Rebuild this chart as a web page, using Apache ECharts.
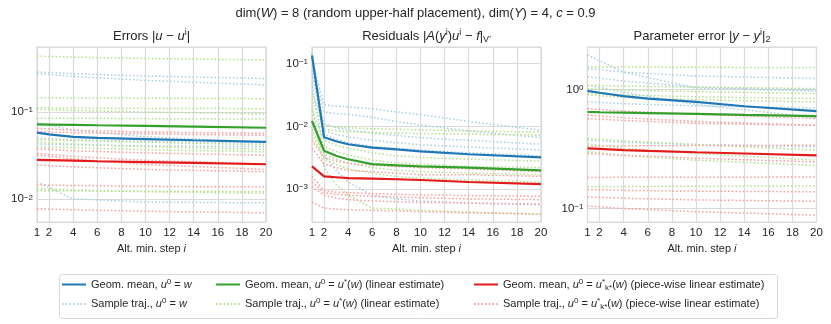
<!DOCTYPE html>
<html>
<head>
<meta charset="utf-8">
<script src="https://cdn.jsdelivr.net/npm/echarts@6/dist/echarts.min.js"></script>
<style>
html, body { margin: 0; padding: 0; background: #fff; }
#chart { width: 831px; height: 324px; }
</style>
</head>
<body>
<div id="chart"></div>
<script>
'use strict'
/*----data----*/
var steps = ['1', '2', '3', '4', '5', '6', '7', '8', '9', '10', '11', '12', '13', '14', '15', '16', '17', '18', '19', '20'];
var meanSteps = [1, 2, 4, 6, 10, 14, 20];
var trajSteps = [1, 4, 10, 20];
var resSteps = [1, 2, 3, 4, 6, 8, 10, 14, 20];

// Errors |u - u^i|
var errMeanW = [0.058, 0.0555, 0.052, 0.0505, 0.049, 0.0475, 0.0455];
var errMeanLin = [0.072, 0.0718, 0.0712, 0.0705, 0.0695, 0.068, 0.066];
var errMeanPw = [0.0283, 0.0281, 0.0277, 0.0273, 0.0267, 0.0261, 0.0252];
var errTrajW = [
	[0.288, 0.275, 0.258, 0.242],
	[0.275, 0.255, 0.23, 0.204],
	[0.076, 0.062, 0.052, 0.045],
	[0.050, 0.048, 0.046, 0.044],
	[0.043, 0.042, 0.041, 0.040],
	[0.0159, 0.0101, 0.0093, 0.0091]
];
var errTrajLin = [
	[0.438, 0.425, 0.41, 0.395],
	[0.146, 0.145, 0.144, 0.142],
	[0.112, 0.111, 0.11, 0.109],
	[0.107, 0.104, 0.1, 0.095],
	[0.085, 0.085, 0.084, 0.083],
	[0.048, 0.047, 0.045, 0.042],
	[0.045, 0.043, 0.040, 0.0375],
	[0.040, 0.039, 0.037, 0.035],
	[0.0133, 0.0128, 0.0122, 0.0118],
	[0.0125, 0.0125, 0.0124, 0.0123]
];
var errTrajPw = [
	[0.065, 0.062, 0.059, 0.057],
	[0.060, 0.058, 0.056, 0.054],
	[0.038, 0.036, 0.034, 0.032],
	[0.0335, 0.031, 0.028, 0.0255],
	[0.032, 0.029, 0.025, 0.022],
	[0.0247, 0.0235, 0.022, 0.0207],
	[0.0146, 0.0144, 0.0141, 0.0138],
	[0.0078, 0.0076, 0.0073, 0.0070]
];

// Residuals |A(y^i)u^i - f|_V'
var resMeanW = [0.135, 0.0067, 0.0058, 0.0052, 0.0046, 0.0043, 0.0040, 0.0036, 0.0032];
var resMeanLin = [0.0122, 0.0041, 0.0034, 0.003, 0.0025, 0.0024, 0.0023, 0.0022, 0.002];
var resMeanPw = [0.0023, 0.0016, 0.00155, 0.0015, 0.00147, 0.00144, 0.0014, 0.0013, 0.0012];
var resTrajW = [
	[0.12, 0.022, 0.021, 0.0205, 0.019, 0.017, 0.0155, 0.012, 0.0087],
	[0.10, 0.017, 0.016, 0.0155, 0.014, 0.012, 0.0105, 0.0085, 0.0066],
	[0.08, 0.011, 0.0095, 0.0088, 0.0078, 0.0072, 0.0066, 0.006, 0.0052],
	[0.07, 0.0085, 0.0075, 0.0068, 0.006, 0.0055, 0.0051, 0.0047, 0.0042],
	[0.15, 0.0075, 0.0062, 0.0055, 0.0048, 0.0045, 0.0042, 0.0038, 0.0034],
	[0.05, 0.0035, 0.002, 0.0013, 0.0008, 0.0007, 0.00065, 0.0006, 0.00056]
];
var resTrajLin = [
	[0.035, 0.0105, 0.0098, 0.0095, 0.0092, 0.009, 0.0088, 0.0085, 0.0081],
	[0.028, 0.009, 0.0085, 0.0082, 0.008, 0.0078, 0.0077, 0.0075, 0.0073],
	[0.018, 0.006, 0.005, 0.0045, 0.0038, 0.0034, 0.0032, 0.003, 0.0028],
	[0.012, 0.0048, 0.004, 0.0035, 0.0029, 0.0026, 0.0025, 0.0023, 0.0022],
	[0.009, 0.0036, 0.003, 0.0026, 0.0022, 0.002, 0.0019, 0.0018, 0.0017],
	[0.0075, 0.003, 0.0025, 0.0021, 0.0018, 0.0016, 0.0015, 0.0014, 0.0013],
	[0.02, 0.0022, 0.0012, 0.0008, 0.0005, 0.00048, 0.00046, 0.00043, 0.0004]
];
var resTrajPw = [
	[0.006, 0.0032, 0.0028, 0.0026, 0.0024, 0.0023, 0.0022, 0.0021, 0.0019],
	[0.0045, 0.0025, 0.0022, 0.002, 0.0019, 0.0018, 0.0017, 0.0017, 0.0016],
	[0.0016, 0.00095, 0.0009, 0.00088, 0.00085, 0.00083, 0.00081, 0.00079, 0.00077],
	[0.0013, 0.00088, 0.00083, 0.0008, 0.00077, 0.00075, 0.00073, 0.0007, 0.00068],
	[0.0011, 0.0008, 0.00072, 0.00068, 0.00065, 0.00063, 0.00062, 0.0006, 0.00058],
	[0.00062, 0.0005, 0.00048, 0.00047, 0.00046, 0.00045, 0.00044, 0.00042, 0.0004]
];

// Parameter error |y - y^i|_2
var parMeanW = [0.975, 0.94, 0.88, 0.84, 0.787, 0.724, 0.66];
var parMeanLin = [0.648, 0.645, 0.64, 0.635, 0.625, 0.612, 0.597];
var parMeanPw = [0.32, 0.317, 0.31, 0.305, 0.297, 0.29, 0.28];
var parTrajW = [
	[1.95, 1.4, 1.03, 0.97],
	[1.5, 1.4, 1.3, 1.24],
	[1.28, 1.18, 1.05, 0.99],
	[1.09, 0.95, 0.75, 0.58],
	[0.79, 0.76, 0.73, 0.70],
	[0.375, 0.36, 0.345, 0.33]
];
var parTrajLin = [
	[1.55, 1.55, 1.54, 1.53],
	[1.09, 1.07, 1.05, 1.02],
	[1.02, 0.99, 0.96, 0.925],
	[0.93, 0.9, 0.87, 0.84],
	[0.9, 0.86, 0.82, 0.787],
	[0.388, 0.37, 0.345, 0.31],
	[0.35, 0.32, 0.29, 0.255],
	[0.30, 0.28, 0.255, 0.23],
	[0.152, 0.153, 0.154, 0.155]
];
var parTrajPw = [
	[0.69, 0.66, 0.62, 0.57],
	[0.61, 0.58, 0.54, 0.50],
	[0.57, 0.55, 0.52, 0.50],
	[0.334, 0.336, 0.338, 0.34],
	[0.29, 0.28, 0.265, 0.246],
	[0.182, 0.183, 0.183, 0.184],
	[0.144, 0.142, 0.14, 0.138],
	[0.125, 0.122, 0.118, 0.115],
	[0.105, 0.1, 0.094, 0.088]
];

var yRanges = [[0.0055, 0.555], [0.0003, 0.184], [0.077, 2.28]];
var legendLabels = {
	meanW: 'Geom. mean, {i|u}{sup|0} = {i|w}',
	trajW: 'Sample traj., {i|u}{sup|0} = {i|w}',
	meanLin: 'Geom. mean, {i|u}{sup|0} = {i|u}{sup|*}({i|w}) (linear estimate)',
	trajLin: 'Sample traj., {i|u}{sup|0} = {i|u}{sup|*}({i|w}) (linear estimate)',
	meanPw: 'Geom. mean, {i|u}{sup|0} = {i|u}{sup|*}{sub|k*}({i|w}) (piece-wise linear estimate)',
	trajPw: 'Sample traj., {i|u}{sup|0} = {i|u}{sup|*}{sub|k*}({i|w}) (piece-wise linear estimate)'
};

/*----style----*/
var font = '"Liberation Sans", Arial, sans-serif';
var ink = '#262626';
var gridColor = '#dadada';
var colors = {
	meanW: '#1f78b4', trajW: '#a6cee3',
	meanLin: '#33a02c', trajLin: '#b2df8a',
	meanPw: '#e31a1c', trajPw: '#fb9a99'
};

function richFor(size) {
	return {
		i: {fontStyle: 'italic', fontSize: size, fontFamily: font, color: ink},
		sup: {fontSize: Math.round(size * 0.7), fontFamily: font, color: ink, verticalAlign: 'top', lineHeight: 9},
		sub: {fontSize: Math.round(size * 0.7), fontFamily: font, color: ink, verticalAlign: 'bottom', lineHeight: 9}
	};
}

function showStep(index) {
	return index === 0 || index % 2 === 1;
}

function powLabel(v) {
	var l = Math.log10(v);
	var e = Math.round(l);
	if (Math.abs(l - e) > 1e-6) return '';
	return '10{sup|' + (e < 0 ? '\u2212' + (-e) : e) + '}';
}

var lefts = [37, 312, 587.5];
var grids = [], xAxes = [], yAxes = [];
lefts.forEach(function(left, k) {
	grids.push({
		left: left, top: 47, width: 229, height: 175,
		show: true, borderColor: gridColor, borderWidth: 1.2, backgroundColor: '#fff'
	});
	xAxes.push({
		type: 'category', gridIndex: k, data: steps, boundaryGap: false,
		axisLine: {show: false}, axisTick: {show: false},
		axisLabel: {interval: showStep, color: ink, fontSize: 11.5, fontFamily: font, margin: 5},
		splitLine: {show: true, interval: showStep, lineStyle: {color: gridColor, width: 1.2}},
		name: 'Alt. min. step {i|i}', nameLocation: 'middle', nameGap: 21,
		nameTextStyle: {color: ink, fontSize: 11, fontFamily: font, verticalAlign: 'top', rich: richFor(11)}
	});
	yAxes.push({
		type: 'log', logBase: 10, gridIndex: k, min: yRanges[k][0], max: yRanges[k][1],
		axisLine: {show: false}, axisTick: {show: false},
		axisLabel: {
			formatter: powLabel, showMinLabel: false, showMaxLabel: false,
			color: ink, fontSize: 11.5, fontFamily: font, margin: 4, rich: richFor(11.5)
		},
		splitLine: {show: true, lineStyle: {color: gridColor, width: 1.2}},
		minorTick: {show: false}, minorSplitLine: {show: false}
	});
});

var series = [];
function addLines(panel, xs, rows, name, dotted) {
	rows.forEach(function(row) {
		series.push({
			name: name, type: 'line', xAxisIndex: panel, yAxisIndex: panel,
			data: row.map(function(v, j) { return [xs[j] - 1, v]; }),
			symbol: 'none', silent: true, z: dotted ? 2 : 3,
			lineStyle: {color: colors[name], width: dotted ? 1.5 : 2.2, type: dotted ? [1.5, 2.2] : 'solid'},
			itemStyle: {color: colors[name]}
		});
	});
}

addLines(0, trajSteps, errTrajW, 'trajW', true);
addLines(0, trajSteps, errTrajLin, 'trajLin', true);
addLines(0, trajSteps, errTrajPw, 'trajPw', true);
addLines(0, meanSteps, [errMeanW], 'meanW', false);
addLines(0, meanSteps, [errMeanLin], 'meanLin', false);
addLines(0, meanSteps, [errMeanPw], 'meanPw', false);

addLines(1, resSteps, resTrajW, 'trajW', true);
addLines(1, resSteps, resTrajLin, 'trajLin', true);
addLines(1, resSteps, resTrajPw, 'trajPw', true);
addLines(1, resSteps, [resMeanW], 'meanW', false);
addLines(1, resSteps, [resMeanLin], 'meanLin', false);
addLines(1, resSteps, [resMeanPw], 'meanPw', false);

addLines(2, trajSteps, parTrajW, 'trajW', true);
addLines(2, trajSteps, parTrajLin, 'trajLin', true);
addLines(2, trajSteps, parTrajPw, 'trajPw', true);
addLines(2, meanSteps, [parMeanW], 'meanW', false);
addLines(2, meanSteps, [parMeanLin], 'meanLin', false);
addLines(2, meanSteps, [parMeanPw], 'meanPw', false);

function legendCol(left, names) {
	return {
		left: left, top: 277.5, orient: 'vertical', padding: 0, itemGap: 5.5,
		itemWidth: 24, itemHeight: 13, data: names, selectedMode: false,
		// hide the marker circle, keep only the line sample
		itemStyle: {color: 'rgba(0,0,0,0)', borderColor: 'rgba(0,0,0,0)', borderWidth: 0, opacity: 0},
		formatter: function(name) { return legendLabels[name]; },
		textStyle: {fontSize: 11, color: ink, fontFamily: font, lineHeight: 14, rich: richFor(11)}
	};
}

function subTitle(text, x, top, size) {
	return {
		text: text, left: x, top: top, textAlign: 'center', padding: 0,
		textStyle: {fontSize: size, fontWeight: 'normal', color: ink, fontFamily: font, lineHeight: 16, rich: richFor(size)}
	};
}

var chart = echarts.init(document.getElementById('chart'));
chart.setOption({
	animation: false,
	backgroundColor: '#fff',
	title: [
		subTitle('dim({i|W}) = 8 (random upper-half placement), dim({i|Y}) = 4, {i|c} = 0.9', 415.5, 5, 13),
		subTitle('Errors |{i|u} \u2212 {i|u}{sup|i}|', 151.5, 28, 13),
		subTitle('Residuals |{i|A}({i|y}{sup|i}){i|u}{sup|i} \u2212 {i|f}|{sub|V\u2032}', 426.5, 28, 13),
		subTitle('Parameter error |{i|y} \u2212 {i|y}{sup|i}|{sub|2}', 702, 28, 13)
	],
	grid: grids,
	xAxis: xAxes,
	yAxis: yAxes,
	legend: [
		legendCol(61, ['meanW', 'trajW']),
		legendCol(215, ['meanLin', 'trajLin']),
		legendCol(473, ['meanPw', 'trajPw'])
	],
	graphic: [{
		type: 'rect', left: 57, top: 272, silent: true, z: 0,
		shape: {width: 718, height: 44, r: 3},
		style: {fill: 'none', stroke: '#d9d9d9', lineWidth: 1}
	}],
	series: series
});
</script>
</body>
</html>
